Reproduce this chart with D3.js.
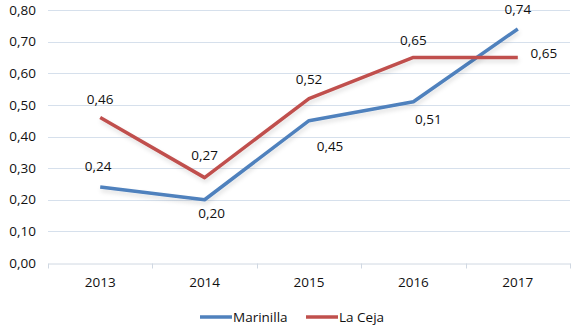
<!DOCTYPE html>
<html>
<head>
<meta charset="utf-8">
<script src="https://cdn.jsdelivr.net/npm/d3@7"></script>
<style>
  body { margin: 0; background: #fff; }
  svg { display: block; font-family: "Open Sans", "Noto Sans", sans-serif; }
</style>
</head>
<body>
<svg id="chart" width="576" height="330"></svg>
<script>
// chart data
const years = ['2013', '2014', '2015', '2016', '2017'];
const marinilla = [0.24, 0.20, 0.45, 0.51, 0.74];
const laCeja = [0.46, 0.27, 0.52, 0.65, 0.65];
const yTicks = [0, 0.1, 0.2, 0.3, 0.4, 0.5, 0.6, 0.7, 0.8];

const width = 576, height = 330;
const margin = { top: 10, right: 6, bottom: 67, left: 48 };

const svg = d3.select('#chart');

// comma decimal like the original
const es = d3.formatLocale({ decimal: ',', thousands: '.', grouping: [3], currency: ['', ''] });
const fmt = es.format('.2f');

const x = d3.scaleBand()
  .domain(years)
  .range([margin.left, width - margin.right]);

const y = d3.scaleLinear()
  .domain([0, 0.8])
  .range([height - margin.bottom, margin.top]);

// gridlines
svg.append('g')
  .selectAll('line')
  .data(yTicks.filter(d => d > 0))
  .join('line')
  .attr('x1', margin.left)
  .attr('x2', width - margin.right)
  .attr('y1', d => Math.round(y(d)) + 0.5)
  .attr('y2', d => Math.round(y(d)) + 0.5)
  .attr('stroke', '#d6e0ec')
  .attr('stroke-width', 1);

// y axis labels
svg.append('g')
  .selectAll('text')
  .data(yTicks)
  .join('text')
  .attr('x', 36)
  .attr('y', d => y(d))
  .attr('dy', '0.35em')
  .attr('text-anchor', 'end')
  .attr('font-size', 13.5)
  .attr('fill', '#111')
  .text(d => fmt(d));

// x axis
const xAxis = svg.append('g')
  .attr('transform', `translate(0,${Math.round(y(0)) + 0.5})`)
  .call(d3.axisBottom(x).tickSize(0).tickPadding(14));
xAxis.select('.domain').attr('stroke', '#d0d8e2');
xAxis.selectAll('text')
  .attr('font-size', 13.5)
  .attr('fill', '#111')
  .attr('font-family', '"Open Sans", "Noto Sans", sans-serif');

// category separators
const bounds = years.map(d => x(d)).concat([x(years[years.length - 1]) + x.bandwidth()]);
xAxis.selectAll('.sep')
  .data(bounds)
  .join('line')
  .attr('class', 'sep')
  .attr('x1', d => Math.round(d) + 0.5)
  .attr('x2', d => Math.round(d) + 0.5)
  .attr('y1', 0)
  .attr('y2', 5)
  .attr('stroke', '#d0d8e2');

const series = [
  { name: 'Marinilla', values: marinilla, color: '#4f81bd',
    // label offsets (dx, dy) from each point
    offsets: [[-2, -21], [7, 14], [21, 26], [15, 18], [0, -20]] },
  { name: 'La Ceja', values: laCeja, color: '#c0504d',
    offsets: [[0, -18], [0, -22], [0, -19], [0, -17], [26, -4]] }
];

const line = d3.line()
  .x((d, i) => x(years[i]) + x.bandwidth() / 2)
  .y(d => y(d));

// shadow
svg.append('defs').append('filter')
  .attr('id', 'shadow')
  .attr('x', '-10%').attr('y', '-10%').attr('width', '120%').attr('height', '130%')
  .append('feDropShadow')
  .attr('dx', 1).attr('dy', 3).attr('stdDeviation', 2)
  .attr('flood-color', '#000').attr('flood-opacity', 0.12);

svg.append('g')
  .selectAll('path')
  .data(series)
  .join('path')
  .attr('fill', 'none')
  .attr('stroke', d => d.color)
  .attr('stroke-width', 3.5)
  .attr('stroke-linejoin', 'round')
  .attr('filter', 'url(#shadow)')
  .attr('d', d => line(d.values));

// data labels
series.forEach(s => {
  svg.append('g')
    .selectAll('text')
    .data(s.values)
    .join('text')
    .attr('x', (d, i) => x(years[i]) + x.bandwidth() / 2 + s.offsets[i][0])
    .attr('y', (d, i) => y(d) + s.offsets[i][1])
    .attr('dy', '0.35em')
    .attr('text-anchor', 'middle')
    .attr('font-size', 13.5)
    .attr('fill', '#111')
    .text(d => fmt(d));
});

// legend
const legend = svg.append('g').attr('transform', 'translate(200,317)');
const legendX = [0, 106];
series.forEach((s, i) => {
  const g = legend.append('g').attr('transform', `translate(${legendX[i]},0)`);
  g.append('line')
    .attr('x1', 0).attr('x2', 32)
    .attr('stroke', s.color)
    .attr('stroke-width', 3.5);
  g.append('text')
    .attr('x', 33)
    .attr('dy', '0.35em')
    .attr('font-size', 13.5)
    .attr('fill', '#111')
    .text(s.name);
});
</script>
</body>
</html>
